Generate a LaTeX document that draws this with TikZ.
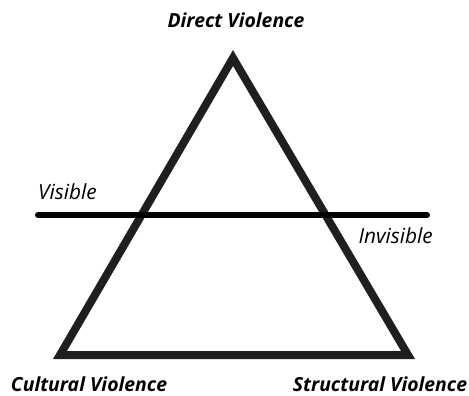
\documentclass[tikz,border=0pt]{standalone}
\usepackage{fontspec}
\setmainfont{Open Sans}
\usetikzlibrary{positioning}

\tikzset{
  corner/.style={font=\fontsize{19.4}{23}\selectfont\bfseries\itshape, inner sep=0pt},
  side/.style={font=\fontsize{20.8}{24}\selectfont\itshape, inner sep=0pt}
}

\begin{document}
\begin{tikzpicture}[x=1pt,y=-1pt]
            \useasboundingbox (0,0) rectangle (469,396);
            % corners of the triangle
            \coordinate (apex) at (233,58);
            \coordinate (lefty) at (60,355);
            \coordinate (righty) at (408,355);
            % the line between seen and unseen
            \coordinate (lineL) at (38,215);
            \coordinate (lineR) at (427,215);
            \draw [black!88, line width=8pt, line join=miter](apex)--(lefty)--(righty)--cycle;
            \draw [black, line width=6pt, line cap=round](lineL)--(lineR);
            \node [corner] (direct) at (236,20) {Direct Violence};
            \node [corner] (cultural) at (89,384) {Cultural Violence};
            \node [corner] (structural) at (380,384) {Structural Violence};
            \node [side, anchor=south west] (visible) at (38,200) {Visible};
            \node [side, anchor=south east] (invisible) at (433,244) {Invisible};
            \end{tikzpicture}
\end{document}
